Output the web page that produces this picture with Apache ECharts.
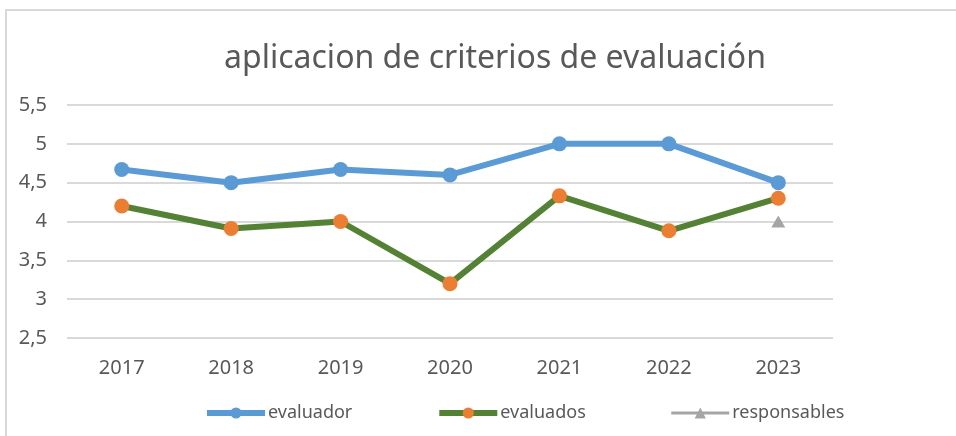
<!DOCTYPE html>
<html>
<head>
<meta charset="utf-8">
<script src="https://cdn.jsdelivr.net/npm/echarts@6/dist/echarts.min.js"></script>
<style>
  html, body { margin: 0; padding: 0; background: #fff; }
  #chart { width: 956px; height: 436px; }
</style>
</head>
<body>
<div id="chart"></div>
<script>
var years = ['2017', '2018', '2019', '2020', '2021', '2022', '2023'];
var evaluador = [4.67, 4.5, 4.67, 4.6, 5, 5, 4.5];
var evaluados = [4.2, 3.91, 4, 3.2, 4.33, 3.88, 4.3];
var responsables = [null, null, null, null, null, null, 4];

var textColor = '#595959';
var fontFam = "'Noto Sans', 'Open Sans', sans-serif";

var chart = echarts.init(document.getElementById('chart'));

var option = {
    animation: false,
    textStyle: { fontFamily: fontFam },
    graphic: [{
        type: 'rect',
        shape: { x: 6, y: 10, width: 1000, height: 500 },
        style: { fill: 'none', stroke: '#d9d9d9', lineWidth: 2 },
        silent: true
    }],
    title: {
        text: 'aplicacion de criterios de evaluación',
        left: 490,
        textAlign: 'center',
        top: 38,
        textStyle: { fontSize: 32, fontWeight: 'normal', color: textColor, fontFamily: fontFam }
    },
    legend: {
        left: 199,
        top: 399,
        itemWidth: 58,
        itemHeight: 14,
        itemGap: 84,
        textStyle: { fontSize: 18, color: textColor, padding: [0, 0, 0, -2] },
        data: [
            { name: 'evaluador', lineStyle: { width: 6 } },
            { name: 'evaluados', lineStyle: { width: 6 } },
            { name: 'responsables', lineStyle: { width: 3 } }
        ]
    },
    grid: { left: 67, right: 123, top: 105, bottom: 98 },
    xAxis: {
        type: 'category',
        data: years,
        boundaryGap: true,
        axisLine: { show: false },
        axisTick: { show: false },
        axisLabel: { fontSize: 20, color: textColor, margin: 20 }
    },
    yAxis: {
        type: 'value',
        min: 2.5,
        max: 5.5,
        interval: 0.5,
        axisLine: { show: false },
        axisTick: { show: false },
        splitLine: { lineStyle: { color: '#d9d9d9', width: 2 } },
        axisLabel: {
            fontSize: 20,
            color: textColor,
            margin: 20,
            formatter: function (v) { return String(v).replace('.', ','); }
        }
    },
    series: [
        {
            name: 'evaluador',
            type: 'line',
            data: evaluador,
            symbol: 'circle',
            symbolSize: 15,
            lineStyle: { color: '#5b9bd5', width: 6 },
            itemStyle: { color: '#5b9bd5' }
        },
        {
            name: 'evaluados',
            type: 'line',
            data: evaluados,
            symbol: 'circle',
            symbolSize: 15,
            lineStyle: { color: '#548235', width: 6 },
            itemStyle: { color: '#ed7d31' }
        },
        {
            name: 'responsables',
            type: 'line',
            data: responsables,
            symbol: 'triangle',
            symbolSize: [14, 12],
            lineStyle: { color: '#a5a5a5', width: 3 },
            itemStyle: { color: '#a5a5a5' }
        }
    ]
};

chart.setOption(option);
</script>
</body>
</html>
